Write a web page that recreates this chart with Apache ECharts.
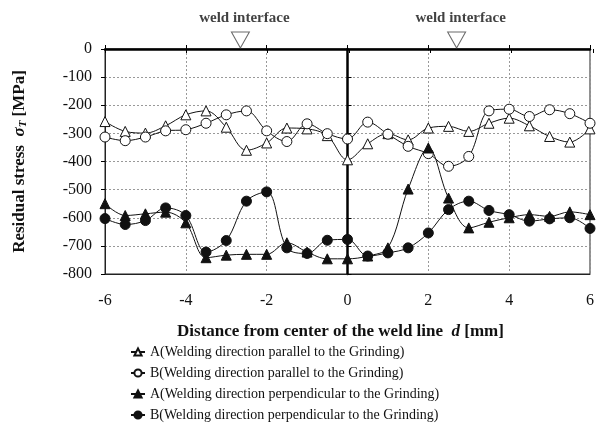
<!DOCTYPE html>
<html><head><meta charset="utf-8">
<script src="https://cdn.jsdelivr.net/npm/echarts@6/dist/echarts.min.js"></script>
<style>html,body{margin:0;padding:0;background:#fff}#c{width:597px;height:431px}</style>
</head><body><div id="c"></div>
<script>
const distance = [-6,-5.5,-5,-4.5,-4,-3.5,-3,-2.5,-2,-1.5,-1,-0.5,0,0.5,1,1.5,2,2.5,3,3.5,4,4.5,5,5.5,6];
const aParallel = [-258,-293,-299,-273,-234,-220,-278,-360,-334,-281,-284,-308,-394,-337,-301,-323,-281,-275,-293,-264,-246,-273,-311,-331,-284];
const bParallel = [-313,-326,-313,-291,-287,-264,-234,-220,-291,-329,-266,-301,-320,-260,-303,-346,-372,-417,-382,-220,-214,-240,-216,-230,-264];
const aPerp = [-550,-592,-586,-580,-618,-742,-733,-730,-730,-689,-722,-746,-746,-736,-707,-498,-352,-530,-636,-616,-600,-589,-595,-579,-589];
const bPerp = [-603,-624,-610,-565,-592,-722,-681,-541,-508,-707,-727,-680,-677,-736,-725,-707,-654,-571,-541,-574,-589,-612,-604,-600,-638];
const weldInterface = [-2.65, 2.7];
const names = [
  'A(Welding direction parallel to the Grinding)',
  'B(Welding direction parallel to the Grinding)',
  'A(Welding direction perpendicular to the Grinding)',
  'B(Welding direction perpendicular to the Grinding)'
];
const xTicks = {min:-6, max:6, interval:2};
const yTicks = {min:-800, max:0, interval:100};

const FONT = 'Liberation Serif';
const pairs = arr => distance.map((d,i)=>[d, arr[i]]);
function lineSeries(name, arr, symbol, filled){
  return {
    name, type:'line', data: pairs(arr), smooth:0.35,
    xAxisIndex:0, yAxisIndex:0,
    symbol, symbolSize:10, showAllSymbol:true,
    lineStyle:{color:'#111', width:1},
    itemStyle:{color: filled?'#111':'#fff', borderColor:'#111', borderWidth:1},
    emphasis:{disabled:true}
  };
}
const chart = echarts.init(document.getElementById('c'), null, {renderer:'canvas'});
const gridBox = {left:105, right:4, top:49, bottom:157};
chart.setOption({
  animation:false,
  textStyle:{fontFamily:FONT},
  grid:[
    Object.assign({show:true, borderColor:'#222', borderWidth:1, backgroundColor:'transparent'}, gridBox),
    Object.assign({show:false}, gridBox)
  ],
  xAxis:[
    Object.assign({type:'value', gridIndex:0, position:'bottom',
      axisLine:{onZero:false, lineStyle:{color:'#222', width:1}},
      axisTick:{show:false},
      axisLabel:{margin:19, color:'#111', fontSize:16, fontFamily:FONT},
      splitLine:{show:true, lineStyle:{color:'#999', type:[2,2], width:1}},
      name:'Distance from center of the weld line  {i|d} [mm]', nameLocation:'middle', nameGap:49,
      nameTextStyle:{fontFamily:FONT, fontSize:17, fontWeight:'bold', color:'#111', padding:[0,14,0,0],
        rich:{i:{fontFamily:FONT, fontSize:17, fontWeight:'bold', fontStyle:'italic', color:'#111'}}}
    }, xTicks),
    Object.assign({type:'value', gridIndex:0, position:'top',
      axisLine:{show:true, lineStyle:{color:'#000', width:2.5}},
      axisTick:{show:true, length:4, inside:false, lineStyle:{color:'#000', width:1}},
      axisLabel:{show:false}, splitLine:{show:false}
    }, xTicks),
    Object.assign({type:'value', gridIndex:1, position:'top',
      axisLine:{show:false},
      axisTick:{show:true, length:4, inside:true, lineStyle:{color:'#000', width:1}},
      axisLabel:{show:false}, splitLine:{show:false}
    }, xTicks)
  ],
  yAxis:[
    Object.assign({type:'value', gridIndex:0, position:'left',
      axisLine:{onZero:false, lineStyle:{color:'#222', width:1}},
      axisTick:{show:false},
      axisLabel:{margin:13, color:'#111', fontSize:16, fontFamily:FONT},
      splitLine:{show:true, lineStyle:{color:'#999', type:[2,2], width:1}},
      name:'Residual stress  {s|σ}{sub|T} [MPa]', nameLocation:'middle', nameGap:76,
      nameTextStyle:{fontFamily:FONT, fontSize:17, fontWeight:'bold', color:'#111',
        rich:{s:{fontFamily:FONT, fontSize:17, fontWeight:'bold', fontStyle:'italic', color:'#111'},
              sub:{fontFamily:FONT, fontSize:11, fontWeight:'bold', fontStyle:'italic', color:'#111', padding:[7,0,0,0]}}}
    }, yTicks),
    Object.assign({type:'value', gridIndex:0, position:'right',
      axisLine:{show:true, onZero:true, onZeroAxisIndex:0, lineStyle:{color:'#000', width:2.5}},
      axisTick:{show:true, length:4, inside:false, lineStyle:{color:'#000', width:1}},
      axisLabel:{show:false}, splitLine:{show:false}
    }, yTicks),
    Object.assign({type:'value', gridIndex:1, position:'left',
      axisLine:{show:false, onZero:true, onZeroAxisIndex:0},
      axisTick:{show:true, length:4, inside:false, lineStyle:{color:'#000', width:1}},
      axisLabel:{show:false}, splitLine:{show:false}
    }, yTicks)
  ],
  legend:{
    orient:'vertical', left:130, top:345, itemGap:7, itemWidth:14, itemHeight:9,
    data:names, textStyle:{fontFamily:FONT, fontSize:14, color:'#111'}, padding:0
  },
  series:[
    lineSeries(names[0], aParallel, 'triangle', false),
    lineSeries(names[1], bParallel, 'circle', false),
    lineSeries(names[2], aPerp, 'triangle', true),
    lineSeries(names[3], bPerp, 'circle', true),
    {
      type:'scatter', xAxisIndex:0, yAxisIndex:0, clip:false, silent:true,
      data: weldInterface.map(x=>[x, 0]),
      symbol:'triangle', symbolRotate:180, symbolSize:[18,16], symbolOffset:[0,-9],
      itemStyle:{color:'#fff', borderColor:'#444', borderWidth:1},
      label:{show:true, position:'top', distance:6, offset:[4,0], formatter:'weld interface',
        fontFamily:FONT, fontSize:15, fontWeight:'bold', color:'#111'},
      z:5
    }
  ]
});
</script></body></html>
